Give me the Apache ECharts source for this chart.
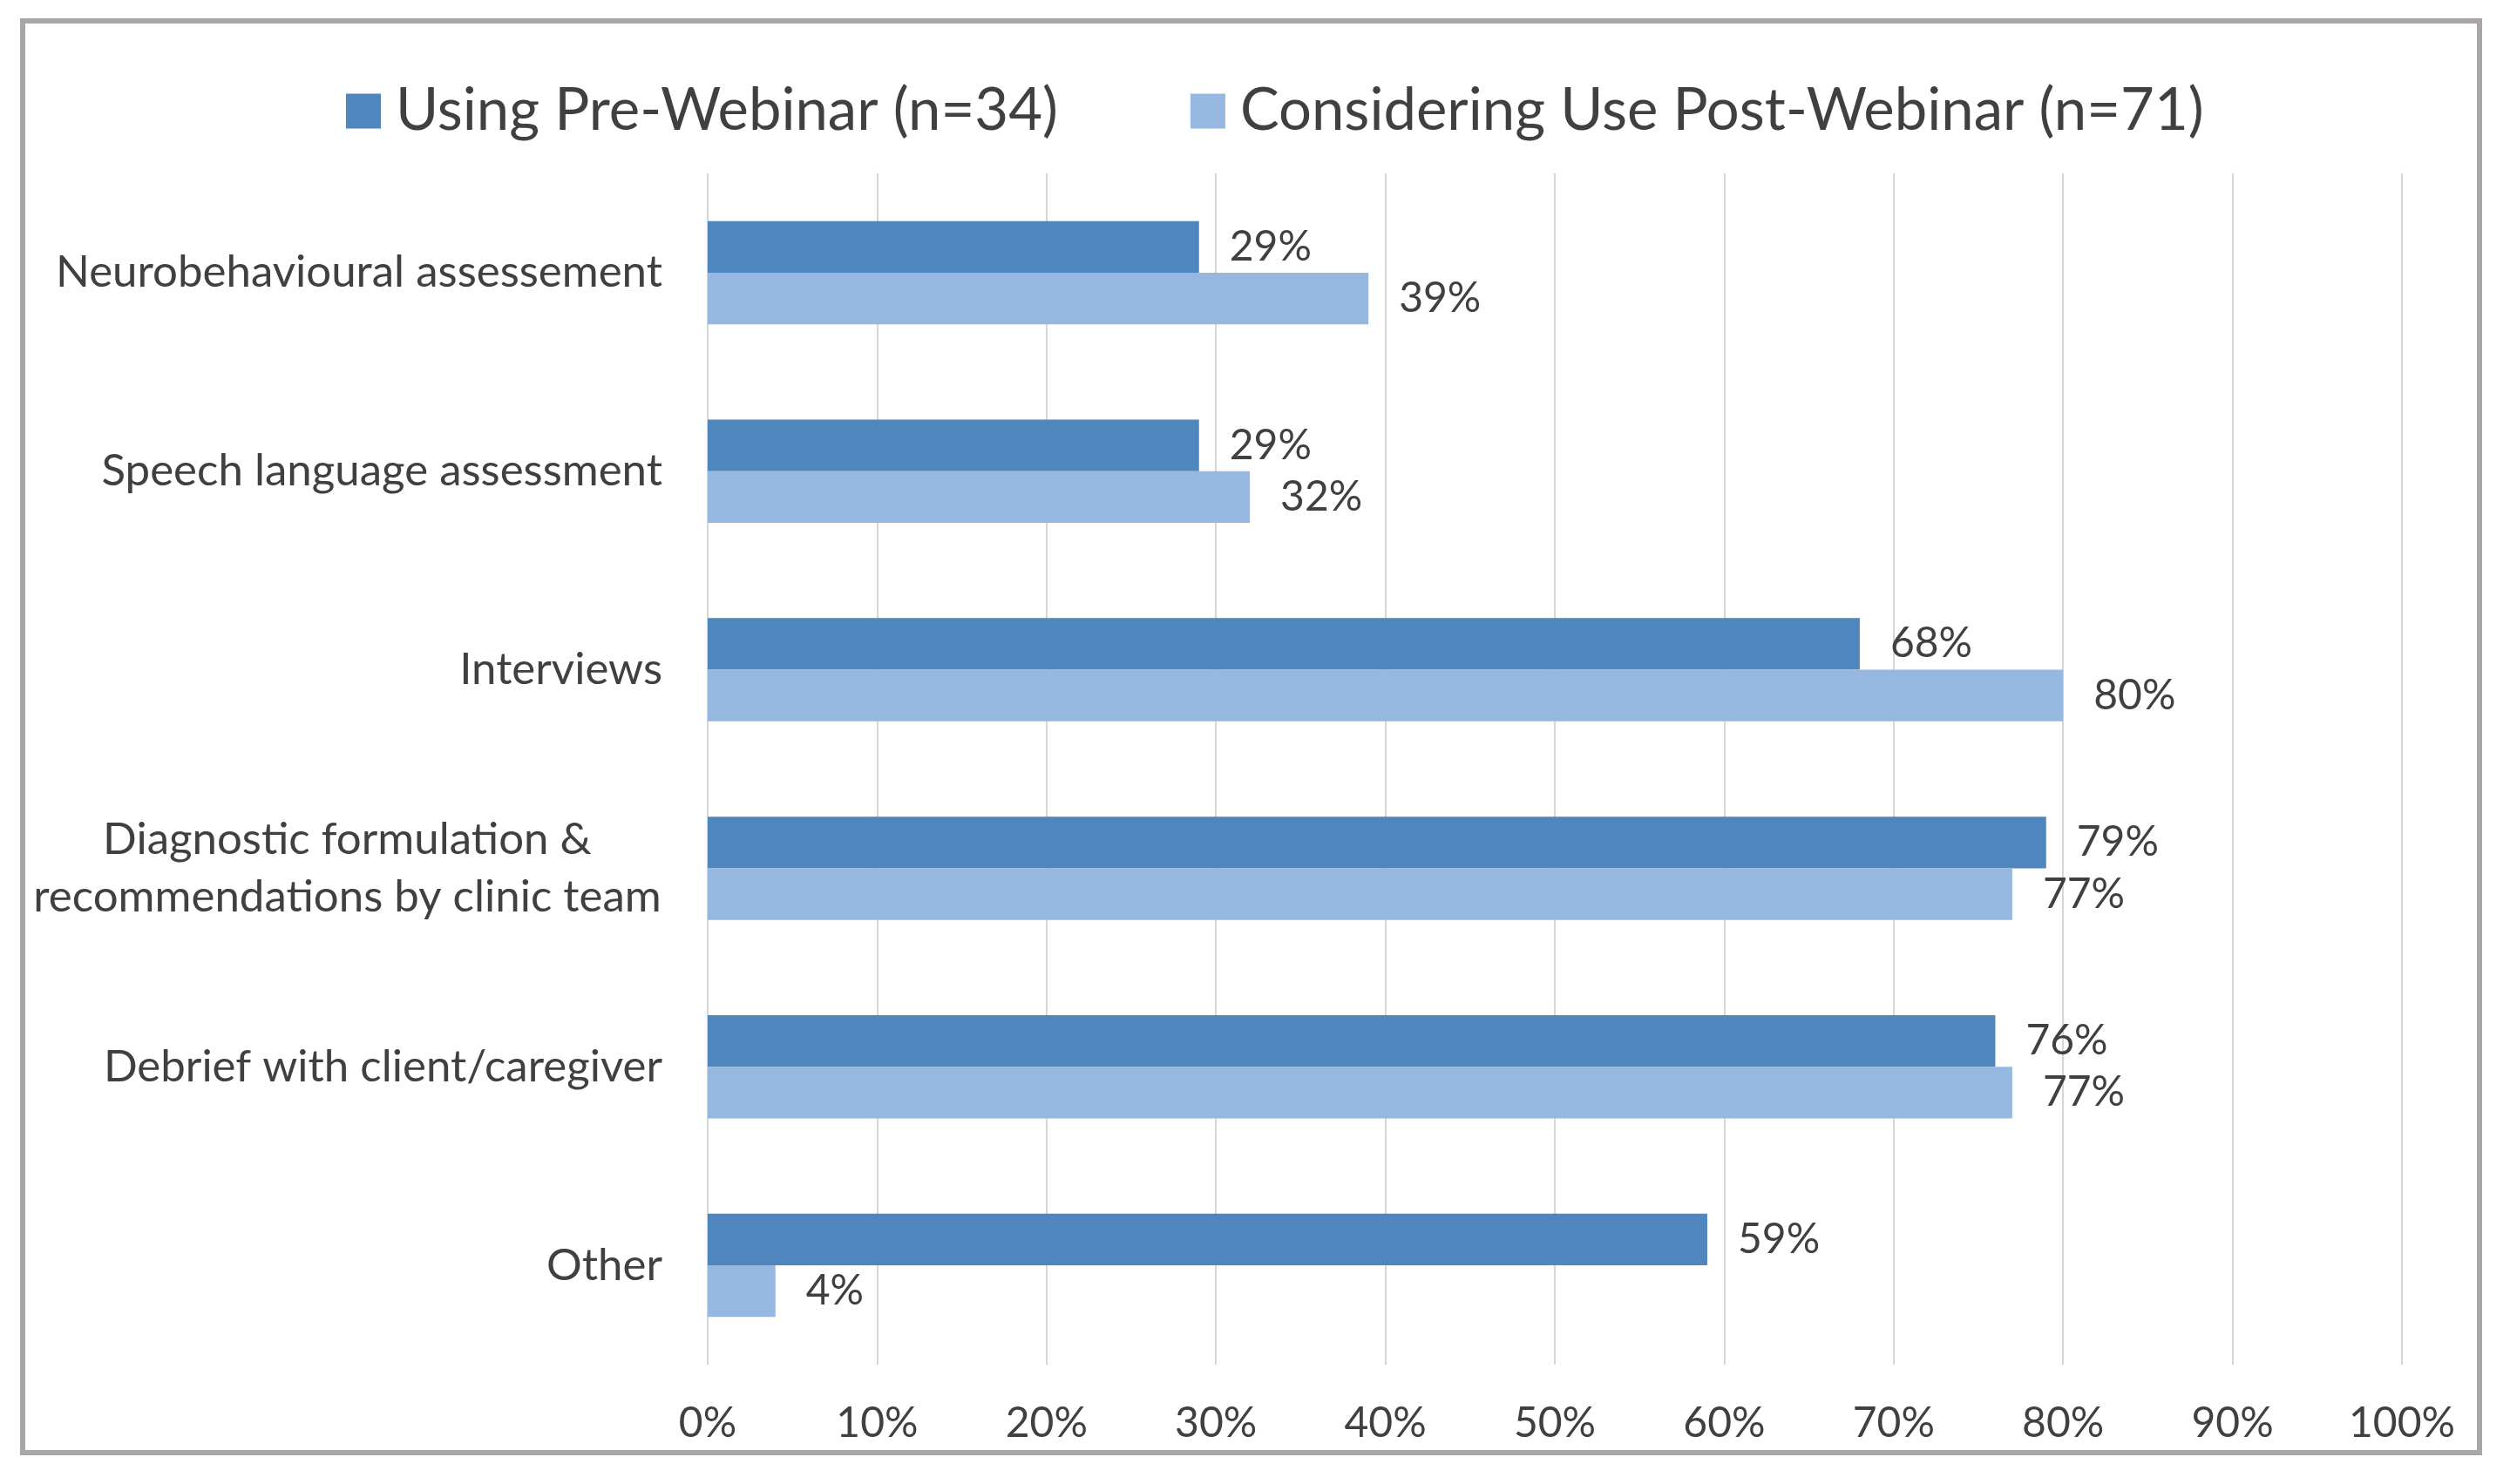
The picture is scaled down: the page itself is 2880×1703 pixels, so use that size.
<!DOCTYPE html>
<html>
<head>
<meta charset="utf-8">
<script src="https://cdn.jsdelivr.net/npm/echarts@6/dist/echarts.min.js"></script>
<style>
html,body{margin:0;padding:0;background:#fff;}
#chart{width:2880px;height:1703px;}
</style>
</head>
<body>
<div id="chart"></div>
<script>
const categories = [
  'Neurobehavioural assessement',
  'Speech language assessment',
  'Interviews',
  'Diagnostic formulation &\nrecommendations by clinic team',
  'Debrief with client/caregiver',
  'Other'
];
const seriesNames = ['Using Pre-Webinar (n=34)', 'Considering Use Post-Webinar (n=71)'];
const preWebinar = [29, 29, 68, 79, 76, 59];
const postWebinar = [39, 32, 80, 77, 77, 4];

const FONT = 'Lato';
const TEXT = '#404040';
const CAT_SIZE = 51;

function measure(t, size) {
  const c = document.createElement('canvas').getContext('2d');
  c.font = size + 'px ' + FONT;
  return c.measureText(t).width;
}
const longLine = 'recommendations by clinic team';
const richW = Math.ceil(measure(longLine, CAT_SIZE)) + 2;

const chart = echarts.init(document.getElementById('chart'), null, {renderer: 'canvas'});
chart.setOption({
  backgroundColor: '#ffffff',
  animation: false,
  graphic: [{
    type: 'rect',
    shape: {x: 26, y: 24, width: 2819, height: 1643},
    style: {fill: 'none', stroke: '#aaa6a5', lineWidth: 6},
    silent: true
  }],
  legend: {
    top: 89,
    left: 392,
    itemWidth: 40,
    itemHeight: 40,
    itemGap: 152,
    icon: 'rect',
    textStyle: {fontFamily: FONT, fontSize: 67, color: TEXT, padding: [0, 0, 0, 12]},
    data: seriesNames
  },
  grid: {left: 812, right: 124, top: 199, bottom: 137, containLabel: false},
  xAxis: {
    type: 'value',
    min: 0, max: 100, interval: 10,
    axisLine: {show: false},
    axisTick: {show: false},
    splitLine: {show: true, lineStyle: {color: '#d6d6d6', width: 2}},
    axisLabel: {
      formatter: '{value}%',
      fontFamily: FONT, fontSize: 48, color: TEXT, margin: 44
    }
  },
  yAxis: {
    type: 'category',
    data: categories,
    inverse: true,
    axisLine: {show: false},
    axisTick: {show: false},
    axisLabel: {
      fontFamily: FONT, fontSize: CAT_SIZE, color: TEXT, margin: 52,
      lineHeight: 66,
      formatter: function (v) {
        return v.indexOf('\n') >= 0 ? '{c|' + v + '}' : v;
      },
      rich: {
        c: {width: richW, align: 'center', fontFamily: FONT, fontSize: CAT_SIZE, color: TEXT, lineHeight: 66}
      }
    }
  },
  series: [
    {
      name: seriesNames[0],
      type: 'bar',
      data: preWebinar,
      itemStyle: {color: '#4f86bd'},
      barGap: '0%',
      barCategoryGap: '48%',
      label: {show: true, position: 'right', distance: 35, formatter: '{c}%',
        fontFamily: FONT, fontSize: 48, color: TEXT}
    },
    {
      name: seriesNames[1],
      type: 'bar',
      data: postWebinar,
      itemStyle: {color: '#96b7df'},
      barGap: '0%',
      barCategoryGap: '48%',
      label: {show: true, position: 'right', distance: 35, formatter: '{c}%',
        fontFamily: FONT, fontSize: 48, color: TEXT}
    }
  ]
});
</script>
</body>
</html>
